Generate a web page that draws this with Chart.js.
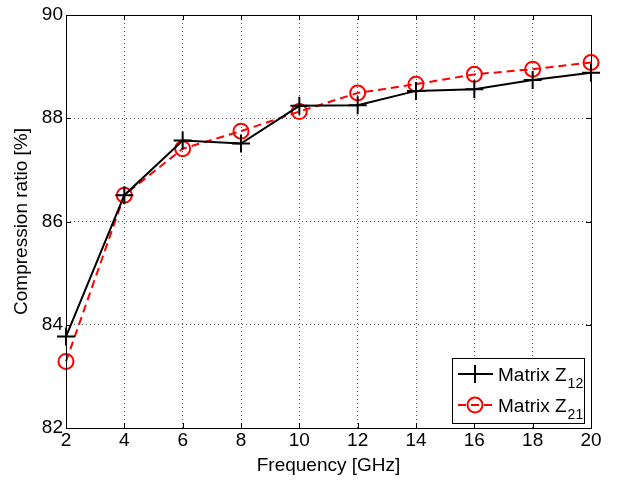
<!DOCTYPE html>
<html>
<head>
<meta charset="utf-8">
<script src="https://cdn.jsdelivr.net/npm/chart.js@4"></script>
<style>
    body { margin: 0; background: #fff; }
    #wrap { width: 618px; height: 481px; }
</style>
</head>
<body>
<div id="wrap"><canvas id="ratioChart" width="618" height="481"></canvas></div>
<script>
// Compression ratio vs frequency

const freqs = [2, 4, 6, 8, 10, 12, 14, 16, 18, 20];
const z12Values = [83.77, 86.51, 87.57, 87.51, 88.24, 88.25, 88.53, 88.56, 88.74, 88.88];
const z21Values = [83.29, 86.51, 87.41, 87.75, 88.13, 88.49, 88.66, 88.85, 88.95, 89.08];
const xTicks = [2, 4, 6, 8, 10, 12, 14, 16, 18, 20];
const yTicks = [82, 84, 86, 88, 90];

const FONT = 'Liberation Sans, Arial, Helvetica, sans-serif';
const FSIZE = 19;

// box around the plot plus inward ticks (matlab look)
const boxPlugin = {
    id: 'box',
    afterDraw(chart) {
        const a = chart.chartArea;
        const c = chart.ctx;
        const xs = chart.scales.x;
        const ys = chart.scales.y;
        c.save();
        c.strokeStyle = '#000';
        c.lineWidth = 1;
        c.strokeRect(a.left + 0.5, a.top + 0.5, a.right - a.left, a.bottom - a.top);
        c.beginPath();
        xTicks.forEach(t => {
            const px = Math.round(xs.getPixelForValue(t)) + 0.5;
            c.moveTo(px, a.bottom); c.lineTo(px, a.bottom - 5);
            c.moveTo(px, a.top); c.lineTo(px, a.top + 5);
        });
        yTicks.forEach(t => {
            const py = Math.round(ys.getPixelForValue(t)) + 0.5;
            c.moveTo(a.left, py); c.lineTo(a.left + 5, py);
            c.moveTo(a.right, py); c.lineTo(a.right - 5, py);
        });
        c.stroke();
        c.restore();
    }
};

// legend with subscripts, bottom right inside the axes
const legendPlugin = {
    id: 'subLegend',
    afterDraw(chart) {
        const a = chart.chartArea;
        const c = chart.ctx;
        const w = 132, h = 65;
        const x0 = a.right - 7 - w;
        const y0 = a.bottom - 5 - h;
        c.save();
        c.fillStyle = '#fff';
        c.fillRect(x0, y0, w, h);
        c.strokeStyle = '#000';
        c.lineWidth = 1;
        c.strokeRect(x0 + 0.5, y0 + 0.5, w, h);

        const rows = [
            { ds: chart.data.datasets[0], sub: '12', y: y0 + 16 },
            { ds: chart.data.datasets[1], sub: '21', y: y0 + 47 }
        ];
        rows.forEach(r => {
            const lx1 = x0 + 6, lx2 = x0 + 41, mx = x0 + 23;
            c.strokeStyle = r.ds.borderColor;
            c.lineWidth = 2;
            c.setLineDash(r.ds.borderDash || []);
            c.beginPath();
            c.moveTo(lx1, r.y); c.lineTo(lx2, r.y);
            c.stroke();
            c.setLineDash([]);
            c.beginPath();
            if (r.ds.pointStyle === 'cross') {
                c.moveTo(mx - 9, r.y); c.lineTo(mx + 9, r.y);
                c.moveTo(mx, r.y - 9); c.lineTo(mx, r.y + 9);
            } else {
                c.arc(mx, r.y, 7.5, 0, Math.PI * 2);
            }
            c.stroke();
            c.fillStyle = '#000';
            c.textBaseline = 'alphabetic';
            c.font = FSIZE + 'px ' + FONT;
            const tx = x0 + 46;
            c.fillText('Matrix Z', tx, r.y + 7);
            const tw = c.measureText('Matrix Z').width;
            c.font = '14px ' + FONT;
            c.fillText(r.sub, tx + tw + 1, r.y + 14);
        });
        c.restore();
    }
};

const ctx = document.getElementById('ratioChart');

new Chart(ctx, {
    type: 'line',
    data: {
        datasets: [
            {
                label: 'Matrix Z12',
                data: freqs.map((f, i) => ({ x: f, y: z12Values[i] })),
                borderColor: '#000',
                backgroundColor: '#000',
                borderWidth: 2,
                pointStyle: 'cross',
                pointRadius: 9,
                pointBorderWidth: 2,
                pointBorderColor: '#000',
                tension: 0,
                clip: false
            },
            {
                label: 'Matrix Z21',
                data: freqs.map((f, i) => ({ x: f, y: z21Values[i] })),
                borderColor: '#ff0000',
                backgroundColor: 'rgba(0,0,0,0)',
                borderWidth: 2,
                borderDash: [8, 5],
                pointStyle: 'circle',
                pointRadius: 7.5,
                pointBorderWidth: 2,
                pointBorderColor: '#ff0000',
                pointBackgroundColor: 'rgba(0,0,0,0)',
                tension: 0,
                clip: false
            }
        ]
    },
    options: {
        responsive: false,
        animation: false,
        layout: {
            padding: { left: 0, top: 15, right: 27, bottom: 0 }
        },
        plugins: {
            legend: { display: false },
            title: { display: false },
            tooltip: { enabled: false }
        },
        scales: {
            x: {
                type: 'linear',
                min: 2,
                max: 20,
                afterBuildTicks: s => { s.ticks = xTicks.map(v => ({ value: v })); },
                afterFit: s => { s.height = 53; },
                ticks: {
                    color: '#000',
                    padding: 1,
                    font: { family: FONT, size: FSIZE }
                },
                grid: {
                    color: '#555',
                    tickLength: 0,
                    drawTicks: false
                },
                border: { display: false, dash: [1, 3] },
                title: {
                    display: true,
                    text: 'Frequency [GHz]',
                    color: '#000',
                    padding: { top: 0, bottom: 4 },
                    font: { family: FONT, size: FSIZE }
                }
            },
            y: {
                min: 82,
                max: 90,
                afterBuildTicks: s => { s.ticks = yTicks.map(v => ({ value: v })); },
                afterFit: s => { s.width = 66; },
                ticks: {
                    color: '#000',
                    padding: 3,
                    font: { family: FONT, size: FSIZE }
                },
                grid: {
                    color: '#555',
                    tickLength: 0,
                    drawTicks: false
                },
                border: { display: false, dash: [1, 3] },
                title: {
                    display: true,
                    text: 'Compression ratio [%]',
                    color: '#000',
                    padding: { top: 10, bottom: 0 },
                    font: { family: FONT, size: FSIZE }
                }
            }
        }
    },
    plugins: [boxPlugin, legendPlugin]
});
</script>
</body>
</html>
